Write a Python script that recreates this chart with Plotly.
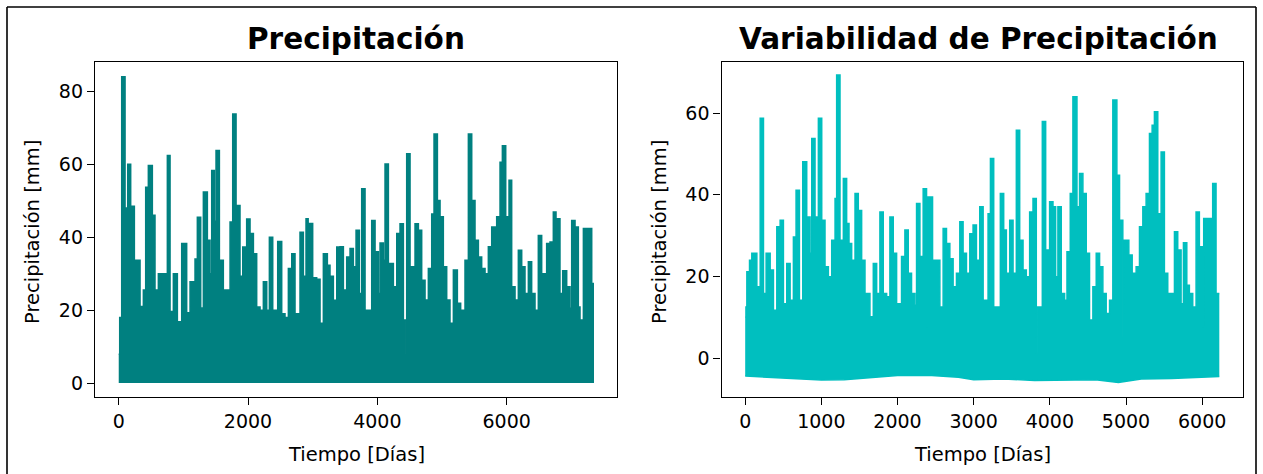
import plotly.graph_objects as go

W, H = 1263, 474

# ---------------- data ----------------
# Left panel: daily precipitation envelope, (start day of step, mm)
LEFT_DAYS = [0, 15, 46, 98, 139, 185, 242, 330, 381, 417, 458, 520, 561, 613, 752, 794,
             845, 907, 974, 1051, 1103, 1180, 1216, 1268, 1309, 1371, 1412, 1438, 1479,
             1505, 1557, 1618, 1722, 1763, 1815, 1876, 1918, 1979, 2031, 2083, 2134, 2186,
             2237, 2289, 2330, 2382, 2459, 2521, 2572, 2624, 2676, 2727, 2804, 2856, 2897,
             2930, 2942, 3000, 3062, 3114, 3165, 3227, 3268, 3320, 3372, 3423, 3475, 3526,
             3578, 3629, 3671, 3722, 3758, 3810, 3913, 3965, 4016, 4042, 4093, 4119, 4171,
             4248, 4300, 4351, 4403, 4418, 4430, 4454, 4506, 4583, 4635, 4686, 4738, 4789,
             4841, 4877, 4929, 4970, 5021, 5073, 5124, 5176, 5238, 5289, 5356, 5408, 5460,
             5511, 5563, 5614, 5666, 5717, 5769, 5846, 5898, 5934, 5986, 6037, 6078, 6130,
             6181, 6233, 6284, 6336, 6387, 6439, 6490, 6542, 6593, 6605, 6619, 6671, 6722,
             6764, 6825, 6867, 6929, 6980, 7006, 7058, 7109, 7135, 7187, 7316, 7340]
LEFT_MM = [8, 18, 84, 48, 60, 48.5, 33.7, 21, 25.5, 53.7, 59.7, 46, 25.5, 30, 62.4, 19.6,
           30, 16.8, 38.3, 19.3, 27.8, 34, 45.5, 20.6, 52.4, 39.2, 30, 58.3, 44.4,
           63.8, 33.7, 25.5, 44.2, 73.8, 48.7, 29.3, 37.3, 45, 41, 35.5, 20.9, 20,
           27.8, 20, 40, 20, 38.8, 19, 18, 31.4, 35.5, 19, 41.4, 29.3, 45.1,
           12, 43.8, 28.9, 28.5, 16.4, 35.5, 32.3, 29.3, 22.7, 37.3, 37.4, 25.5, 34.6,
           36.9, 31.9, 41.9, 24.6, 53.3, 20, 44.6, 36, 24.6, 38.4, 33.7, 60.1, 32.8,
           26.4, 41, 43.7, 17.3, 8, 17.3, 62.9, 31.9, 43.7, 41.9, 28.2, 22.8, 31.4,
           46.4, 68.3, 50.1, 45.6, 31.9, 22.8, 16.4, 31, 21.9, 20, 33.7, 68.3, 50.1,
           39.2, 34.6, 31.4, 30, 37.4, 42.8, 45.6, 60.6, 65.1, 45.6, 55.6, 26.4, 22.8,
           36.4, 31.9, 24.6, 33.3, 24.6, 20, 40.5, 30, 12.7, 30, 38.3, 38.7, 46.9,
           45.1, 24.6, 30.8, 26.4, 20.5, 44.6, 42.8, 20.9, 17.3, 42.4, 27.3, 0]

# Right panel: variability, upper envelope (start day of step, mm)
RIGHT_DAYS = [0, 10, 22, 57, 87, 153, 197, 240, 275, 328, 371, 415, 459, 502, 546, 590,
              633, 668, 712, 756, 808, 852, 874, 917, 961, 1005, 1048, 1092, 1136, 1180,
              1201, 1245, 1289, 1332, 1363, 1398, 1442, 1485, 1529, 1573, 1638, 1682, 1726,
              1769, 1813, 1857, 1900, 1944, 1988, 2053, 2097, 2141, 2184, 2228, 2250, 2294,
              2337, 2381, 2393, 2460, 2556, 2599, 2643, 2687, 2730, 2774, 2818, 2861, 2905,
              2949, 2992, 3036, 3080, 3124, 3189, 3220, 3263, 3350, 3394, 3429, 3473, 3517,
              3560, 3604, 3648, 3691, 3735, 3779, 3822, 3834, 3901, 3945, 3997, 4041, 4076,
              4106, 4150, 4194, 4225, 4268, 4303, 4356, 4390, 4434, 4478, 4521, 4565, 4609,
              4653, 4696, 4740, 4784, 4827, 4880, 4915, 4958, 4970, 5037, 5081, 5133, 5177,
              5221, 5264, 5308, 5343, 5373, 5417, 5461, 5504, 5548, 5636, 5679, 5723, 5754,
              5798, 5832, 5876, 5920, 5963, 6007, 6020, 6138, 6182, 6225]
RIGHT_MM = [10.2, 12.6, 21.2, 24.0, 25.7, 17.5, 58.7, 15.9, 25.7, 21.6, 11.8, 32.2, 33.8, 13.4, 23.2, 14.2,
            29.7, 41.1, 14.2, 48.1, 34.6, 25.7, 53.8, 34.6, 58.7, 33.8, 22.4, 20.0, 28.9, 39.1,
            69.3, 28.9, 44.0, 33.0, 28.1, 24.0, 40.3, 36.2, 24.0, 15.9, 10.2, 23.2, 15.9,
            35.8, 15.9, 15.1, 34.6, 25.7, 13.4, 24.9, 31.4, 20.8, 15.9, 13.0, 37.9, 24.9,
            41.5, 7.7, 39.5, 24.0, 12.6, 31.8, 28.1, 24.4, 17.5, 20.8, 33.4, 25.7, 20.8,
            30.5, 32.6, 24.0, 37.1, 14.2, 35.4, 48.9, 12.6, 40.3, 31.4, 20.8, 33.8, 20.8,
            55.8, 28.9, 21.6, 20.0, 35.8, 39.1, 1.2, 12.6, 57.9, 26.5, 38.3, 37.1, 20.0,
            37.1, 15.9, 14.2, 26.1, 40.3, 64.0, 37.1, 45.2, 40.3, 25.7, 9.4, 17.5, 25.7,
            22.4, 15.9, 11.0, 14.2, 63.2, 44.8, 33.8, 5.3, 28.9, 25.3, 20.8, 22.4, 32.2,
            37.1, 40.3, 55.0, 57.0, 60.3, 35.4, 50.5, 20.8, 15.9, 31.0, 26.5, 13.4, 28.3,
            17.9, 15.9, 12.6, 35.8, 27.3, 7.7, 34.2, 42.8, 15.9, 15.9]
# Right panel: lower envelope (negative anomalies)
LOW_DAYS = [0, 300, 700, 1000, 1300, 1600, 2000, 2400, 2800, 3000, 3400, 3800, 4200, 4600,
            4900, 5200, 5600, 6000, 6225]
LOW_MM = [-4.3, -4.6, -5.0, -5.3, -5.2, -4.8, -4.2, -4.1, -4.6, -5.2, -5.0, -5.4, -5.3, -5.2,
          -5.9, -5.0, -4.9, -4.6, -4.4]

LEFT_XTICKS = [0, 2000, 4000, 6000]
LEFT_YTICKS = [0, 20, 40, 60, 80]
RIGHT_XTICKS = [0, 1000, 2000, 3000, 4000, 5000, 6000]
RIGHT_YTICKS = [0, 20, 40, 60]

TITLE_L = "Precipitación"
TITLE_R = "Variabilidad de Precipitación"
XLABEL = "Tiempo [Días]"
YLABEL = "Precipitación [mm]"

TEAL = "#008080"
CYAN = "#00bfbf"
FONT = "DejaVu Sans"

# ---------------- figure ----------------
fig = go.Figure()
fig.add_trace(go.Scatter(x=LEFT_DAYS, y=LEFT_MM, mode="lines", line=dict(color=TEAL, width=1.5, shape="hv"),
                         fill="tozeroy", fillcolor=TEAL, xaxis="x", yaxis="y", hoverinfo="skip"))
fig.add_trace(go.Scatter(x=LOW_DAYS, y=LOW_MM, mode="lines", line=dict(color=CYAN, width=1.5),
                         xaxis="x2", yaxis="y2", hoverinfo="skip"))
fig.add_trace(go.Scatter(x=RIGHT_DAYS, y=RIGHT_MM, mode="lines", line=dict(color=CYAN, width=1.5, shape="hv"),
                         fill="tonexty", fillcolor=CYAN, xaxis="x2", yaxis="y2", hoverinfo="skip"))

def px(x):
    return x / W

def py(y):
    return 1 - y / H

axis_common = dict(showgrid=False, zeroline=False, showline=True, mirror=True, linecolor="black",
                   linewidth=1.3, ticks="outside", ticklen=7, tickwidth=1.3, tickcolor="black",
                   tickfont=dict(family=FONT, size=19, color="black"), automargin=False)

fig.update_layout(
    width=W, height=H, margin=dict(l=0, r=0, t=0, b=0),
    paper_bgcolor="white", plot_bgcolor="white", showlegend=False,
    xaxis=dict(domain=[px(95), px(617)], range=[-367, 7707], tickvals=LEFT_XTICKS, anchor="y", **axis_common),
    yaxis=dict(domain=[py(397.3), py(61.5)], range=[-3.9, 88.2], tickvals=LEFT_YTICKS, anchor="x", **axis_common),
    xaxis2=dict(domain=[px(721.5), px(1243)], range=[-311, 6536], tickvals=RIGHT_XTICKS, anchor="y2", **axis_common),
    yaxis2=dict(domain=[py(397.3), py(61.5)], range=[-9.5, 72.6], tickvals=RIGHT_YTICKS, anchor="x2", **axis_common),
)

ann = []
def add_text(text, x, y, size, bold=False, angle=0):
    ann.append(dict(text=f"<b>{text}</b>" if bold else text, x=px(x), y=py(y), xref="paper", yref="paper",
                    xanchor="center", yanchor="middle", showarrow=False, textangle=angle,
                    font=dict(family=FONT, size=size, color="black")))

add_text(TITLE_L, 356, 39, 29.5, bold=True)
add_text(TITLE_R, 979, 39, 29.5, bold=True)
add_text(XLABEL, 356, 454, 19.5)
add_text(XLABEL, 982, 454, 19.5)
add_text(YLABEL, 32, 232, 19.5, angle=-90)
add_text(YLABEL, 659, 232, 19.5, angle=-90)
fig.update_layout(annotations=ann)

# outer frame of the picture
frame = dict(type="line", xref="paper", yref="paper", line=dict(color="black", width=1.6))
fig.update_layout(shapes=[
    dict(frame, x0=px(7), x1=px(7), y0=0, y1=py(7)),
    dict(frame, x0=px(7), x1=px(1256), y0=py(7), y1=py(7)),
    dict(frame, x0=px(1256), x1=px(1256), y0=0, y1=py(7)),
])

fig.write_html("out.html", config={"displayModeBar": False},
               post_script="document.body.style.margin='0';document.body.style.overflow='hidden';")
